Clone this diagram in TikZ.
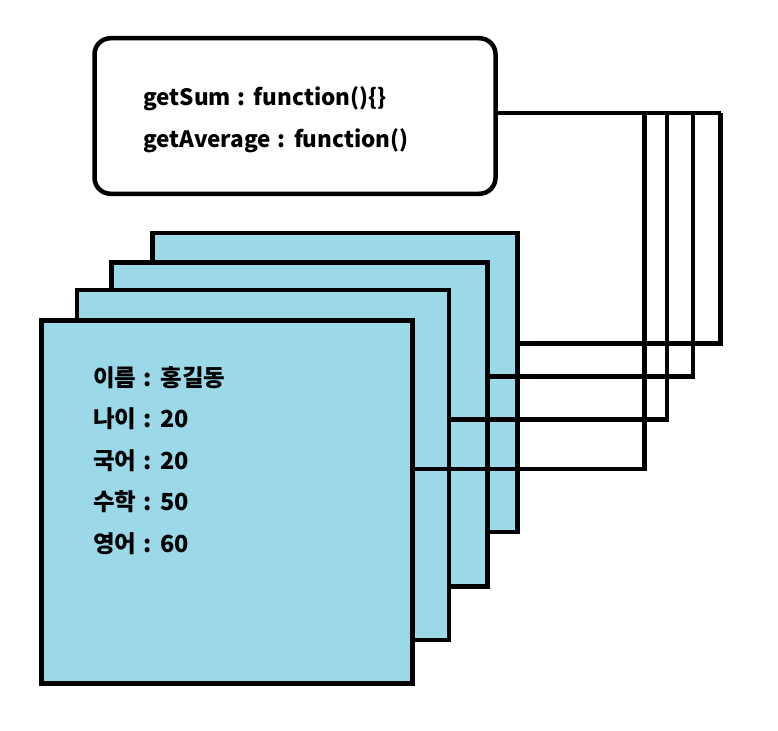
\documentclass[tikz,border=0pt]{standalone}
\usepackage{fontspec}
\setmainfont{Noto Sans CJK KR}[WordSpace=1.3]
\definecolor{cardblue}{RGB}{155,217,233}

\begin{document}
\begin{tikzpicture}[x=1pt,y=-1pt,
    card/.style={draw,line width=4.5pt,fill=cardblue,inner sep=0pt},
    wire/.style={line width=4.5pt},
    label/.style={anchor=base west,inner sep=0pt,font=\bfseries\fontsize{22.5}{26}\selectfont},
    field/.style={label,font=\bfseries\fontsize{23.5}{28}\selectfont}]
    \useasboundingbox (0,0) rectangle (778,730);
    \node[draw,line width=4.5pt,rounded corners=16pt,minimum width=401pt,minimum height=155.5pt] (methods) at (295,116) {};
    \node[label] (sum) at (143,105.5) {getSum : function()\{\}};
    \node[label] (avg) at (143,147.7) {getAverage : function()};
    \node[card,minimum width=365pt,minimum height=299pt] (rec4) at (335,382.7) {};
    \node[card,minimum width=376pt,minimum height=324pt] (rec3) at (299.4,424.4) {};
    \node[card,minimum width=372pt,minimum height=350pt] (rec2) at (262.9,465.2) {};
    \node[card,minimum width=371pt,minimum height=363pt] (rec1) at (226.9,502) {};
    \foreach \txt [count=\i] in {이름 : 홍길동,나이 : 20,국어 : 20,수학 : 50,영어 : 60}
        \node[field] (field\i) at (93,386+41.5*\i-41.5) {\txt};
    \coordinate (hub) at (720.5,113);
    \draw[wire] (methods.east |- hub) -- (hub);
    \foreach \r/\x/\y in {4/720.5/343.3,3/693/376.3,2/667/419.5,1/644.5/468.8}{
        \coordinate (tap\r) at (\x,113);
        \draw[wire] (rec\r.east |- 0,\y) -| (tap\r);
    }
\end{tikzpicture}
\end{document}
